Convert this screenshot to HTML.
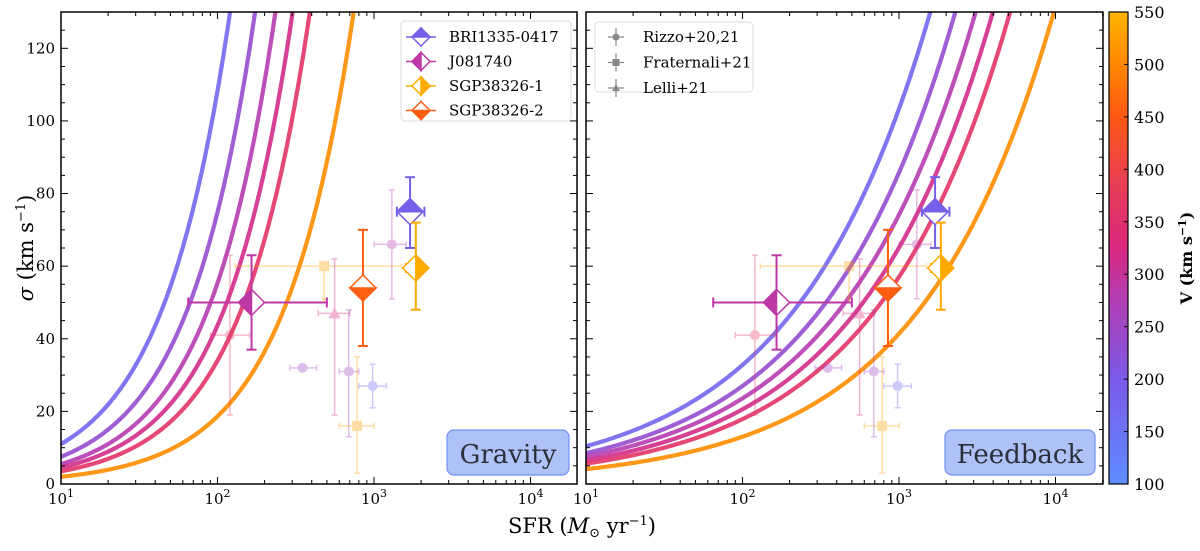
<!DOCTYPE html>
<html><head><meta charset="utf-8">
<style>
body{margin:0;background:#fff;width:1200px;height:547px;overflow:hidden;font-family:"DejaVu Serif","Liberation Serif",serif;}
svg text{font-family:"DejaVu Serif","Liberation Serif",serif;}
</style></head>
<body>
<svg id="chart" width="1200" height="547" xmlns="http://www.w3.org/2000/svg">
<defs>
<linearGradient id="cmap" x1="0" y1="1" x2="0" y2="0">
<stop offset="0" stop-color="#5f8dff"/>
<stop offset="0.22" stop-color="#7a5ae8"/>
<stop offset="0.4" stop-color="#b63cb0"/>
<stop offset="0.5" stop-color="#d9287f"/>
<stop offset="0.65" stop-color="#ea4050"/>
<stop offset="0.78" stop-color="#fd5a12"/>
<stop offset="0.9" stop-color="#ff8c00"/>
<stop offset="1" stop-color="#ffb300"/>
</linearGradient>
</defs>
</svg>
<script>
// ---- data ----
const curveV = [175, 235, 280, 315, 360, 505];
const gravS10 = [11, 7.5, 5.5, 4.5, 3.5, 2];
const gravTopLog = [2.08, 2.24, 2.37, 2.48, 2.59, 2.87];
const fbS10 = [10.4, 8.5, 7.5, 6.5, 5.6, 4.1];
const fbTopLog = [3.2, 3.36, 3.49, 3.6, 3.71, 3.99];
const mainNames = ["BRI1335-0417", "J081740", "SGP38326-1", "SGP38326-2"];
const mainV = [190, 290, 540, 455];
const mainSFR = [1700, 165, 1850, 850];
const mainSFRlo = [1400, 65, 1600, 800];
const mainSFRhi = [2100, 500, 1900, 900];
const mainSig = [75, 50, 59.5, 54];
const mainSigLo = [65, 37, 48, 38];
const mainSigHi = [84.5, 63, 72, 70];
const mainFill = ["top", "left", "right", "bottom"];
const litSFR = [120, 480, 560, 350, 690, 980, 780, 1300];
const litSFRlo = [90, 130, 440, 290, 600, 800, 600, 1000];
const litSFRhi = [160, 1500, 700, 430, 800, 1200, 1000, 1600];
const litSig = [41, 60, 47, 32, 31, 27, 16, 66];
const litSigLo = [19, 60, 19, 32, 13, 21, 3, 51];
const litSigHi = [63, 60, 62, 32, 48, 33, 35, 81];
const litShape = ["circle", "square", "triangle", "circle", "circle", "circle", "square", "circle"];
const litV = [370, 530, 320, 250, 250, 170, 530, 280];
const litUpper = [false, true, false, false, false, false, false, false];
const yTicks = [0, 20, 40, 60, 80, 100, 120];
const xTickExp = [1, 2, 3, 4];
const cbTicks = [100, 150, 200, 250, 300, 350, 400, 450, 500, 550];

// ---- layout ----
const NS = "http://www.w3.org/2000/svg";
const svg = document.getElementById("chart");
const panels = [{x0: 61, x1: 577, name: "gravity-panel"}, {x0: 586, x1: 1103, name: "feedback-panel"}];
const yTop = 12, yBot = 484, yMax = 130, dec = 156.5;
function sx(p, v) { return p.x0 + (Math.log10(v) - 1) * dec; }
function sy(v) { return yBot - v / yMax * (yBot - yTop); }
const cstops = [[0,[95,141,255]],[0.22,[122,90,232]],[0.4,[182,60,176]],[0.5,[217,40,127]],[0.65,[234,64,80]],[0.78,[253,90,18]],[0.9,[255,140,0]],[1,[255,179,0]]];
function cmap(V) {
  let t = Math.max(0, Math.min(1, (V - 100) / 450));
  for (let i = 1; i < cstops.length; i++) {
    if (t <= cstops[i][0]) {
      const a = cstops[i-1], b = cstops[i], f = (t - a[0]) / (b[0] - a[0]);
      const c = a[1].map((v, k) => Math.round(v + (b[1][k] - v) * f));
      return `rgb(${c[0]},${c[1]},${c[2]})`;
    }
  }
  return "rgb(255,179,0)";
}
function mk(tag, attrs, parent) {
  const e = document.createElementNS(NS, tag);
  for (const k in attrs) e.setAttribute(k, attrs[k]);
  (parent || svg).appendChild(e);
  return e;
}

panels.forEach((p, pi) => {
  const g = mk("g", {});
  
  
  const cid = "clip" + pi;
  const cp = mk("clipPath", {id: cid}, g);
  mk("rect", {x: p.x0, y: yTop, width: p.x1 - p.x0, height: yBot - yTop}, cp);
  const plot = mk("g", {"clip-path": `url(#${cid})`}, g);
  const s10 = pi === 0 ? gravS10 : fbS10, top = pi === 0 ? gravTopLog : fbTopLog;
  curveV.forEach((V, i) => {
    const b = Math.log10(130 / s10[i]) / (top[i] - 1);
    let d = "";
    for (let L = 1; L <= 4.4; L += 0.01) {
      const s = s10[i] * Math.pow(10, (L - 1) * b);
      d += (d ? "L" : "M") + sx(p, Math.pow(10, L)).toFixed(1) + "," + sy(Math.min(s, 140)).toFixed(1);
      if (s > 140) break;
    }
    const path = mk("path", {d: d, fill: "none", stroke: cmap(V), "stroke-width": 4.2, opacity: 0.9}, plot);
    
    
  });
  litSFR.forEach((s, i) => {
    const c = cmap(litV[i]);
    const lg = mk("g", {opacity: 0.35, stroke: c, fill: c, "stroke-width": 1.5}, plot);
    
    
    const X = sx(p, s), Y = sy(litSig[i]);
    const xl = sx(p, litSFRlo[i]), xh = sx(p, litSFRhi[i]);
    mk("line", {x1: xl, y1: Y, x2: xh, y2: Y}, lg);
    mk("line", {x1: xl, y1: Y - 3, x2: xl, y2: Y + 3}, lg);
    mk("line", {x1: xh, y1: Y - 3, x2: xh, y2: Y + 3}, lg);
    if (litUpper[i]) {
      const ya = sy(litSig[i] - 10);
      mk("line", {x1: X, y1: Y, x2: X, y2: ya}, lg);
      mk("path", {d: `M${X-3},${ya-5}L${X+3},${ya-5}L${X},${ya}Z`, stroke: "none"}, lg);
    } else if (litSigLo[i] !== litSigHi[i]) {
      const yl = sy(litSigLo[i]), yh = sy(litSigHi[i]);
      mk("line", {x1: X, y1: yl, x2: X, y2: yh}, lg);
      mk("line", {x1: X - 3, y1: yl, x2: X + 3, y2: yl}, lg);
      mk("line", {x1: X - 3, y1: yh, x2: X + 3, y2: yh}, lg);
    }
    if (litShape[i] === "circle") mk("circle", {cx: X, cy: Y, r: 5, stroke: "none"}, lg);
    else if (litShape[i] === "square") mk("rect", {x: X - 5, y: Y - 5, width: 10, height: 10, stroke: "none"}, lg);
    else mk("path", {d: `M${X},${Y-6}L${X+6},${Y+5}L${X-6},${Y+5}Z`, stroke: "none"}, lg);
  });
  mainSFR.forEach((s, i) => {
    const c = cmap(mainV[i]);
    const mg = mk("g", {stroke: c, "stroke-width": 2}, plot);
    
    
    const X = sx(p, s), Y = sy(mainSig[i]);
    const xl = sx(p, mainSFRlo[i]), xh = sx(p, mainSFRhi[i]), yl = sy(mainSigLo[i]), yh = sy(mainSigHi[i]);
    mk("line", {x1: xl, y1: Y, x2: xh, y2: Y}, mg);
    mk("line", {x1: xl, y1: Y - 5, x2: xl, y2: Y + 5}, mg);
    mk("line", {x1: xh, y1: Y - 5, x2: xh, y2: Y + 5}, mg);
    mk("line", {x1: X, y1: yl, x2: X, y2: yh}, mg);
    mk("line", {x1: X - 5, y1: yl, x2: X + 5, y2: yl}, mg);
    mk("line", {x1: X - 5, y1: yh, x2: X + 5, y2: yh}, mg);
    const r = 13;
    const T = [X, Y - r], R = [X + r, Y], B = [X, Y + r], Lp = [X - r, Y];
    mk("path", {d: `M${T}L${R}L${B}L${Lp}Z`, fill: "#fff", "stroke-width": 1.5}, mg);
    let half;
    if (mainFill[i] === "top") half = `M${Lp}L${T}L${R}Z`;
    else if (mainFill[i] === "bottom") half = `M${Lp}L${B}L${R}Z`;
    else if (mainFill[i] === "left") half = `M${T}L${Lp}L${B}Z`;
    else half = `M${T}L${R}L${B}Z`;
    mk("path", {d: half, fill: c, "stroke-width": 1.5}, mg);
  });
  mk("rect", {x: p.x0, y: yTop, width: p.x1 - p.x0, height: yBot - yTop, fill: "none", stroke: "#000", "stroke-width": 1.5}, g);
  for (let v = 0; v <= 130; v += 5) {
    const Y = sy(v), len = v % 20 === 0 ? 7 : 4;
    mk("line", {x1: p.x0, y1: Y, x2: p.x0 + len, y2: Y, stroke: "#000"}, g);
    mk("line", {x1: p.x1, y1: Y, x2: p.x1 - len, y2: Y, stroke: "#000"}, g);
  }
  if (pi === 0) yTicks.forEach(v => {
    const t = mk("text", {x: p.x0 - 6, y: sy(v) + 5, "text-anchor": "end", "font-size": 15}, g);
    t.textContent = v;
    
    
  });
  for (let e = 1; e <= 4; e++) for (let m = 1; m <= 9; m++) {
    const X = sx(p, m * Math.pow(10, e));
    if (X > p.x1) continue;
    const len = m === 1 ? 7 : 4;
    mk("line", {x1: X, y1: yBot, x2: X, y2: yBot - len, stroke: "#000"}, g);
    mk("line", {x1: X, y1: yTop, x2: X, y2: yTop + len, stroke: "#000"}, g);
  }
  xTickExp.forEach(e => {
    const t = mk("text", {x: sx(p, Math.pow(10, e)), y: yBot + 20, "text-anchor": "middle", "font-size": 15}, g);
    t.innerHTML = `10<tspan dy="-7" font-size="11">${e}</tspan>`;
    
    
  });
  const lab = pi === 0 ? "Gravity" : "Feedback";
  const bw = pi === 0 ? 122 : 150;
  const bx = p.x1 - 8 - bw;
  const box = mk("g", {}, g);
  
  
  mk("rect", {x: bx, y: 430, width: bw, height: 45, rx: 7, fill: "#afc2f8", stroke: "#6f92f2", "stroke-width": 1.2}, box);
  const lt = mk("text", {x: bx + bw / 2, y: 463, "text-anchor": "middle", "font-size": 26, fill: "#2b2f3a"}, box);
  lt.textContent = lab;
});

const leg = mk("g", {});


mk("rect", {x: 401, y: 21, width: 170, height: 100, rx: 4, fill: "#fff", stroke: "#ddd"}, leg);
mainNames.forEach((n, i) => {
  const y = 37 + i * 24.5, x = 421, c = cmap(mainV[i]);
  const e = mk("g", {stroke: c, "stroke-width": 1.5}, leg);
  
  
  mk("line", {x1: x - 15, y1: y, x2: x + 15, y2: y}, e);
  mk("line", {x1: x, y1: y - 10, x2: x, y2: y + 10}, e);
  const r = 9;
  mk("path", {d: `M${x},${y-r}L${x+r},${y}L${x},${y+r}L${x-r},${y}Z`, fill: "#fff"}, e);
  let half = mainFill[i] === "top" ? `M${x-r},${y}L${x},${y-r}L${x+r},${y}Z` : mainFill[i] === "bottom" ? `M${x-r},${y}L${x},${y+r}L${x+r},${y}Z` : mainFill[i] === "left" ? `M${x},${y-r}L${x-r},${y}L${x},${y+r}Z` : `M${x},${y-r}L${x+r},${y}L${x},${y+r}Z`;
  mk("path", {d: half, fill: c}, e);
  const t = mk("text", {x: 449, y: y + 5, "font-size": 15, fill: "#000", stroke: "none"}, leg);
  t.textContent = n;
});
const leg2 = mk("g", {});


mk("rect", {x: 595, y: 22, width: 158, height: 70, rx: 4, fill: "#fff", stroke: "#ddd"}, leg2);
["Rizzo+20,21", "Fraternali+21", "Lelli+21"].forEach((n, i) => {
  const y = 37 + i * 25.5, x = 616;
  const e = mk("g", {stroke: "#888", fill: "#888", "stroke-width": 1.2}, leg2);
  
  
  mk("line", {x1: x - 8, y1: y, x2: x + 8, y2: y}, e);
  mk("line", {x1: x, y1: y - 9, x2: x, y2: y + 9}, e);
  if (i === 0) mk("circle", {cx: x, cy: y, r: 3.5, stroke: "none"}, e);
  else if (i === 1) mk("rect", {x: x - 3.5, y: y - 3.5, width: 7, height: 7, stroke: "none"}, e);
  else mk("path", {d: `M${x},${y-4}L${x+4},${y+3}L${x-4},${y+3}Z`, stroke: "none"}, e);
  const t = mk("text", {x: 643, y: y + 5, "font-size": 15, fill: "#000", stroke: "none"}, leg2);
  t.textContent = n;
});

const cb = mk("g", {});


mk("rect", {x: 1109, y: yTop, width: 19, height: yBot - yTop, fill: "url(#cmap)", stroke: "#000", "stroke-width": 1.2}, cb);
cbTicks.forEach(v => {
  const Y = yBot - (v - 100) / 450 * (yBot - yTop);
  mk("line", {x1: 1128, y1: Y, x2: 1124, y2: Y, stroke: "#000"}, cb);
  const t = mk("text", {x: 1134, y: Y + 6, "font-size": 16}, cb);
  t.textContent = v;
});
const cbl = mk("text", {x: 0, y: 0, "font-size": 16, "text-anchor": "middle", transform: "translate(1192,258) rotate(-90)", "font-weight": "bold"});
cbl.innerHTML = 'V (km s<tspan dy="-6" font-size="11">−1</tspan><tspan dy="6">)</tspan>';



const xl = mk("text", {x: 582, y: 533, "text-anchor": "middle", "font-size": 21});
xl.innerHTML = 'SFR (<tspan font-style="italic">M</tspan><tspan dy="4" font-size="13">⊙</tspan><tspan dy="-4"> yr</tspan><tspan dy="-8" font-size="13">−1</tspan><tspan dy="8">)</tspan>';


const yl = mk("text", {x: 0, y: 0, "text-anchor": "middle", "font-size": 21, transform: "translate(33,248) rotate(-90)"});
yl.innerHTML = '<tspan font-style="italic">σ</tspan> (km s<tspan dy="-8" font-size="13">−1</tspan><tspan dy="8">)</tspan>';


</script>
</body></html>
